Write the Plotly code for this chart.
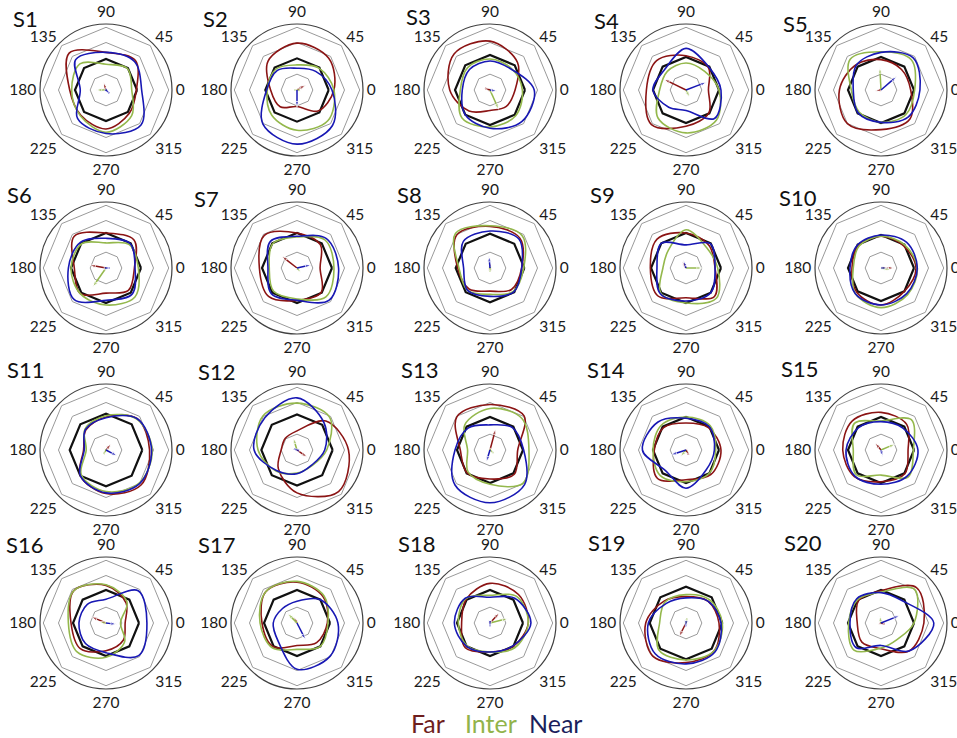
import plotly.graph_objects as go

W, H = 957, 738
subjects = [f"S{i}" for i in range(1, 21)]
angles = [0, 45, 90, 135, 180, 225, 270, 315]
ring_levels = [0.24, 0.72, 0.95]

far_r = [
    [0.46, 0.63, 0.57, 0.79, 0.55, 0.54, 0.59, 0.50],
    [0.56, 0.68, 0.71, 0.62, 0.40, 0.36, 0.25, 0.45],
    [0.38, 0.59, 0.74, 0.77, 0.61, 0.45, 0.31, 0.35],
    [0.34, 0.48, 0.52, 0.63, 0.60, 0.74, 0.55, 0.49],
    [0.45, 0.44, 0.46, 0.54, 0.63, 0.72, 0.60, 0.62],
    [0.43, 0.60, 0.53, 0.68, 0.48, 0.55, 0.38, 0.48],
    [0.35, 0.50, 0.53, 0.70, 0.57, 0.61, 0.49, 0.52],
    [0.48, 0.64, 0.63, 0.71, 0.49, 0.45, 0.35, 0.46],
    [0.44, 0.49, 0.53, 0.62, 0.54, 0.60, 0.45, 0.61],
    [0.53, 0.48, 0.48, 0.48, 0.44, 0.52, 0.56, 0.50],
    [0.66, 0.67, 0.50, 0.43, 0.34, 0.55, 0.66, 0.75],
    [0.78, 0.62, 0.29, 0.25, 0.24, 0.40, 0.65, 0.89],
    [0.42, 0.73, 0.69, 0.71, 0.45, 0.49, 0.44, 0.52],
    [0.53, 0.48, 0.41, 0.48, 0.48, 0.61, 0.45, 0.53],
    [0.41, 0.55, 0.57, 0.62, 0.58, 0.57, 0.48, 0.51],
    [0.29, 0.43, 0.57, 0.69, 0.53, 0.55, 0.42, 0.37],
    [0.46, 0.56, 0.62, 0.67, 0.53, 0.51, 0.34, 0.42],
    [0.58, 0.61, 0.60, 0.51, 0.43, 0.53, 0.44, 0.50],
    [0.50, 0.47, 0.40, 0.47, 0.61, 0.71, 0.60, 0.60],
    [0.65, 0.76, 0.49, 0.48, 0.36, 0.41, 0.39, 0.60],
]
inter_r = [
    [0.39, 0.46, 0.39, 0.56, 0.52, 0.55, 0.64, 0.55],
    [0.56, 0.47, 0.38, 0.45, 0.45, 0.54, 0.61, 0.66],
    [0.49, 0.46, 0.47, 0.48, 0.45, 0.60, 0.56, 0.55],
    [0.50, 0.40, 0.41, 0.40, 0.40, 0.60, 0.65, 0.65],
    [0.51, 0.65, 0.58, 0.66, 0.45, 0.47, 0.49, 0.53],
    [0.49, 0.50, 0.38, 0.52, 0.53, 0.55, 0.56, 0.62],
    [0.56, 0.60, 0.47, 0.52, 0.42, 0.50, 0.47, 0.62],
    [0.51, 0.69, 0.64, 0.74, 0.47, 0.48, 0.40, 0.50],
    [0.48, 0.44, 0.58, 0.38, 0.35, 0.54, 0.53, 0.65],
    [0.55, 0.50, 0.48, 0.47, 0.42, 0.55, 0.60, 0.57],
    [0.70, 0.66, 0.52, 0.45, 0.30, 0.53, 0.63, 0.71],
    [0.45, 0.70, 0.71, 0.73, 0.59, 0.45, 0.35, 0.33],
    [0.59, 0.68, 0.63, 0.54, 0.34, 0.47, 0.52, 0.71],
    [0.45, 0.52, 0.50, 0.53, 0.50, 0.55, 0.48, 0.50],
    [0.49, 0.65, 0.44, 0.57, 0.42, 0.53, 0.38, 0.58],
    [0.22, 0.45, 0.58, 0.69, 0.57, 0.62, 0.52, 0.40],
    [0.47, 0.58, 0.63, 0.67, 0.56, 0.53, 0.40, 0.50],
    [0.58, 0.57, 0.42, 0.52, 0.48, 0.49, 0.44, 0.53],
    [0.55, 0.50, 0.43, 0.45, 0.40, 0.58, 0.56, 0.60],
    [0.50, 0.72, 0.47, 0.50, 0.49, 0.58, 0.38, 0.35],
]
near_r = [
    [0.54, 0.61, 0.57, 0.65, 0.39, 0.61, 0.66, 0.75],
    [0.53, 0.40, 0.33, 0.42, 0.46, 0.73, 0.82, 0.76],
    [0.67, 0.45, 0.44, 0.44, 0.42, 0.53, 0.58, 0.68],
    [0.53, 0.49, 0.63, 0.45, 0.50, 0.37, 0.31, 0.61],
    [0.59, 0.69, 0.57, 0.53, 0.42, 0.49, 0.49, 0.58],
    [0.44, 0.52, 0.45, 0.55, 0.57, 0.68, 0.49, 0.56],
    [0.63, 0.63, 0.48, 0.57, 0.44, 0.55, 0.49, 0.69],
    [0.48, 0.62, 0.56, 0.57, 0.40, 0.48, 0.43, 0.51],
    [0.44, 0.52, 0.35, 0.53, 0.44, 0.55, 0.50, 0.53],
    [0.55, 0.55, 0.50, 0.50, 0.47, 0.55, 0.56, 0.55],
    [0.69, 0.67, 0.49, 0.44, 0.33, 0.55, 0.65, 0.72],
    [0.42, 0.58, 0.79, 0.69, 0.65, 0.44, 0.36, 0.32],
    [0.51, 0.48, 0.38, 0.47, 0.53, 0.75, 0.80, 0.74],
    [0.43, 0.50, 0.48, 0.60, 0.66, 0.44, 0.58, 0.43],
    [0.56, 0.47, 0.43, 0.48, 0.53, 0.56, 0.52, 0.56],
    [0.62, 0.69, 0.36, 0.40, 0.41, 0.44, 0.45, 0.70],
    [0.62, 0.50, 0.33, 0.31, 0.36, 0.40, 0.70, 0.71],
    [0.62, 0.53, 0.39, 0.53, 0.54, 0.50, 0.44, 0.49],
    [0.53, 0.47, 0.38, 0.42, 0.57, 0.66, 0.62, 0.62],
    [0.80, 0.47, 0.46, 0.52, 0.47, 0.53, 0.34, 0.60],
]
black_r = [0.47, 0.48, 0.53, 0.50, 0.50, 0.53, 0.53, 0.52, 0.53, 0.50,
           0.55, 0.54, 0.50, 0.50, 0.50, 0.50, 0.50, 0.50, 0.55, 0.50]

far_arrow_ang = [109, 31, 160, 154, 190, 170, 142, 95, 120, 0, 50, 325, 75, 300, 130, 157, 120, 47, 243, 340]
far_arrow_len = [0.12, 0.15, 0.08, 0.37, 0.09, 0.25, 0.29, 0.05, 0.12, 0.20, 0.12, 0.19, 0.33, 0.08, 0.14, 0.24, 0.10, 0.21, 0.23, 0.06]
inter_arrow_ang = [180, 180, 294, 297, 93, 235, 310, 275, 0, 350, 240, 107, 320, 230, 23, 170, 134, 14, 80, 100]
inter_arrow_len = [0.15, 0.04, 0.32, 0.12, 0.34, 0.35, 0.09, 0.06, 0.25, 0.15, 0.07, 0.19, 0.07, 0.13, 0.23, 0.10, 0.20, 0.28, 0.07, 0.11]
near_arrow_ang = [315, 270, 350, 21, 41, 0, 13, 95, 110, 0, 332, 160, 253, 198, 285, 353, 297, 270, 260, 22]
near_arrow_len = [0.07, 0.26, 0.11, 0.33, 0.31, 0.06, 0.22, 0.18, 0.12, 0.10, 0.19, 0.05, 0.19, 0.24, 0.10, 0.16, 0.28, 0.05, 0.05, 0.30]

tick_labels = ["0", "45", "90", "135", "180", "225", "270", "315"]

# layout geometry (pixels)
col_x = [106, 297, 490, 686, 881]
row_y = [90, 268, 450, 623]
RAD = 66
title_pos = [(25, 18), (215, 19), (418, 17), (606, 21), (795, 23),
             (19, 194), (206, 198), (409, 194), (602, 194), (798, 197),
             (25, 369), (216, 371), (419, 369), (606, 370), (799, 368),
             (24, 544), (216, 544), (416, 543), (606, 542), (803, 542)]

FAR_C, INTER_C, NEAR_C = "#8B1414", "#94B84C", "#1818B4"
FONT = "Lato"


def fx(px):
    return px / W


def fy(py):
    return 1 - py / H


fig = go.Figure()
layout = {}
closed = angles + [angles[0]]

for i, name in enumerate(subjects):
    pk = "polar" if i == 0 else f"polar{i+1}"
    cx, cy = col_x[i % 5], row_y[i // 5]
    layout[pk] = dict(
        domain=dict(x=[fx(cx - RAD), fx(cx + RAD)],
                    y=[fy(cy + RAD), fy(cy - RAD)]),
        bgcolor="white",
        radialaxis=dict(range=[0, 1], visible=False, showgrid=False),
        angularaxis=dict(tickmode="array", tickvals=angles, ticktext=tick_labels,
                         showgrid=False, ticks="", showline=True,
                         linecolor="#404040", linewidth=1.2,
                         tickfont=dict(family=FONT, size=15.5, color="#1a1a1a"),
                         rotation=0, direction="counterclockwise"),
    )
    for lvl in ring_levels:
        fig.add_trace(go.Scatterpolar(r=[lvl] * 9, theta=closed, mode="lines",
                                      line=dict(color="#9a9a9a", width=1),
                                      subplot=pk, showlegend=False, hoverinfo="skip"))
    fig.add_trace(go.Scatterpolar(r=[black_r[i]] * 9, theta=closed, mode="lines",
                                  line=dict(color="#111111", width=2.2),
                                  subplot=pk, showlegend=False))
    for data, col in ((far_r, FAR_C), (inter_r, INTER_C), (near_r, NEAR_C)):
        rr = data[i] + [data[i][0]]
        fig.add_trace(go.Scatterpolar(r=rr, theta=closed, mode="lines",
                                      line=dict(color=col, width=1.6, shape="spline", smoothing=1.0),
                                      subplot=pk, showlegend=False))
    for angs, lens, col in ((far_arrow_ang, far_arrow_len, FAR_C),
                            (inter_arrow_ang, inter_arrow_len, INTER_C),
                            (near_arrow_ang, near_arrow_len, NEAR_C)):
        fig.add_trace(go.Scatterpolar(r=[0, lens[i]], theta=[angs[i], angs[i]],
                                      mode="lines+markers",
                                      line=dict(color=col, width=1.5),
                                      marker=dict(symbol=["circle", "arrow"], size=[0, 6],
                                                  angleref="previous", color=col),
                                      subplot=pk, showlegend=False))

annotations = []
for i, name in enumerate(subjects):
    tx, ty = title_pos[i]
    annotations.append(dict(text=name, x=fx(tx), y=fy(ty), xref="paper", yref="paper",
                            showarrow=False, xanchor="center", yanchor="middle",
                            font=dict(family=FONT, size=22, color="#111111")))

legend_items = [("Far", "#6E1E1E", 428), ("Inter", "#92B34A", 491), ("Near", "#1B1F5C", 555)]
for txt, col, lx in legend_items:
    annotations.append(dict(text=txt, x=fx(lx), y=fy(723), xref="paper", yref="paper",
                            showarrow=False, xanchor="center", yanchor="middle",
                            font=dict(family=FONT, size=25, color=col)))

fig.update_layout(width=W, height=H, margin=dict(l=0, r=0, t=0, b=0),
                  paper_bgcolor="white", plot_bgcolor="white",
                  annotations=annotations, showlegend=False, **layout)
fig.write_html("out.html", config={"displayModeBar": False},
               post_script="document.body.style.margin='0px';document.body.style.overflow='hidden';")
